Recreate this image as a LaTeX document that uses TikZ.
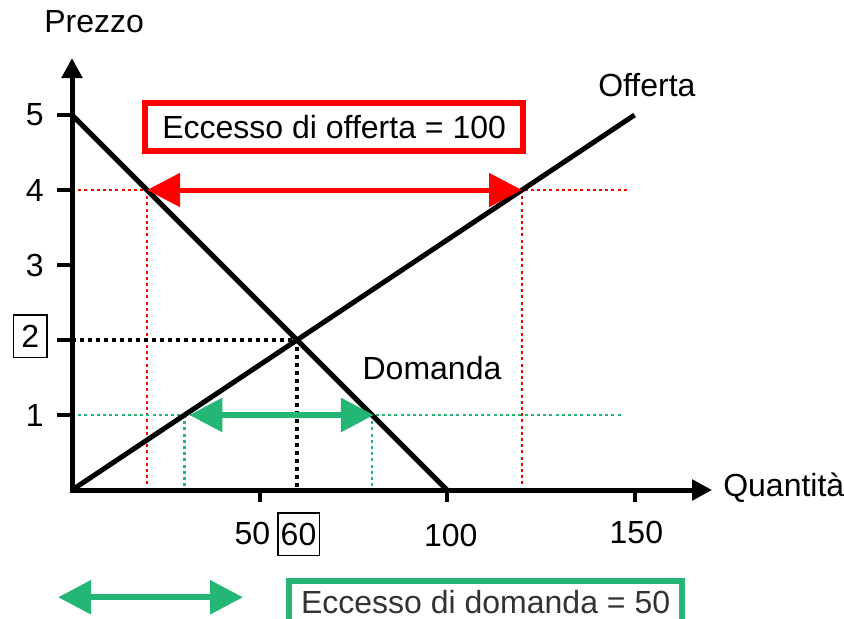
\documentclass[tikz,border=0pt]{standalone}
\usepackage{fontspec}
\setmainfont{Liberation Sans}
\usetikzlibrary{arrows.meta}
\definecolor{excred}{RGB}{255,0,0}
\definecolor{excgreen}{RGB}{36,182,116}
\definecolor{boxtext}{RGB}{51,51,51}

\begin{document}
\begin{tikzpicture}[
    x = 1.875pt, y = 37.5pt,
    every node/.style = {font = \fontsize{16}{19}\selectfont, inner sep = 2pt},
      axis/.style = {line width = 2.5pt, line cap = rect, -{Triangle[length=10pt, width=10pt]}},
      curve/.style = {line width = 2.5pt},
      tick/.style = {line width = 2pt},
      guide/.style = {line width = 1.4pt, dash pattern = on 1.5pt off 1.6pt},
      eqline/.style = {line width = 1.9pt, dash pattern = on 2pt off 2pt},
      excess/.style = {line width = #1, {Triangle[length=16.5pt, width=16.5pt]}-{Triangle[length=16.5pt, width=16.5pt]}},
      marked/.style = {draw, line width = 0.8pt, inner ysep = 5pt},
      banner/.style = {draw, line width = 3pt, inner xsep = 0pt}
    ]
    \useasboundingbox (-36pt,-64pt) rectangle (386pt,245pt);
    \coordinate (O) at (0,0);
    \coordinate (ymax) at (0,5.76);
    \coordinate (xmax) at (170.7,0);
    \coordinate (dA) at (0,5);
    \coordinate (dB) at (100,0);
    \coordinate (sB) at (150,5);
    \coordinate (E) at (60,2);
    \coordinate (E0) at (60,0);
    \coordinate (p2) at (0,2);
    \coordinate (p4) at (0,4);
    \coordinate (p4end) at (148.8,4);
    \coordinate (d4) at (20,4);
    \coordinate (d40) at (20,0);
    \coordinate (s4) at (120,4);
    \coordinate (s40) at (120,0);
    \coordinate (p1) at (0,1);
    \coordinate (p1end) at (146.7,1);
    \coordinate (s1) at (30,1);
    \coordinate (s10) at (30,0);
    \coordinate (d1) at (80,1);
    \coordinate (d10) at (80,0);
    \coordinate (gL) at (31.3,1);
    \coordinate (gR) at (80.5,1);
    \coordinate (kL) at (-3.7,-1.43);
    \coordinate (kR) at (45.6,-1.43);

    \draw[guide, excred] (p4) -- (p4end);
    \draw[guide, excred] (d4) -- (d40);
    \draw[guide, excred] (s4) -- (s40);
    \draw[guide, excgreen] (p1) -- (p1end);
    \draw[guide, excgreen] (s1) -- (s10);
    \draw[guide, excgreen] (d1) -- (d10);
    \draw[eqline] (p2) -- (E) -- (E0);

    \draw[axis] (O) -- (ymax);
    \draw[axis] (O) -- (xmax);
    \foreach \p in {1,...,5}
        \draw[tick] (0,\p) -- ++(-4,0);
    \foreach \q in {50,100,150}
        \draw[tick] (\q,0) -- ++(0,-0.16);

    \draw[curve] (dA) -- (dB);
    \draw[curve] (O) -- (sB);

    \draw[excess = 2.5pt, excred] (d4) -- (s4);
    \draw[excess = 3pt, excgreen] (gL) -- (gR);
    \draw[excess = 3pt, excgreen] (kL) -- (kR);

    \foreach \p in {1,3,4,5}
        \node (price\p) at (-9.9,\p) {\p};
    \node[marked, inner xsep = 3.9pt] (price2) at (-11.1,2.05) {2};
    \node (qty50) at (48.1,-0.58) {50};
    \node[marked, inner xsep = 1.5pt] (qty60) at (60.4,-0.59) {60};
    \node (qty100) at (101,-0.6) {100};
    \node (qty150) at (150.5,-0.56) {150};

    \node (prezzo) at (5.9,6.24) {Prezzo};
    \node[anchor = west] (quantita) at (172.5,0.03) {Quantità};
    \node (offerta) at (153.3,5.4) {Offerta};
    \node (domanda) at (96,1.63) {Domanda};

    \node[banner, excred, minimum width = 189pt, minimum height = 24pt, inner ysep = 0pt, text = black] (surplus) at (69.9,4.84) {Eccesso di offerta = 100};
    \node[banner, excgreen, minimum width = 196.5pt, anchor = north, inner ysep = 4.5pt, text depth = 10pt, text = boxtext] (shortage) at (110.3,-1.173) {Eccesso di domanda = 50};
\end{tikzpicture}
\end{document}
